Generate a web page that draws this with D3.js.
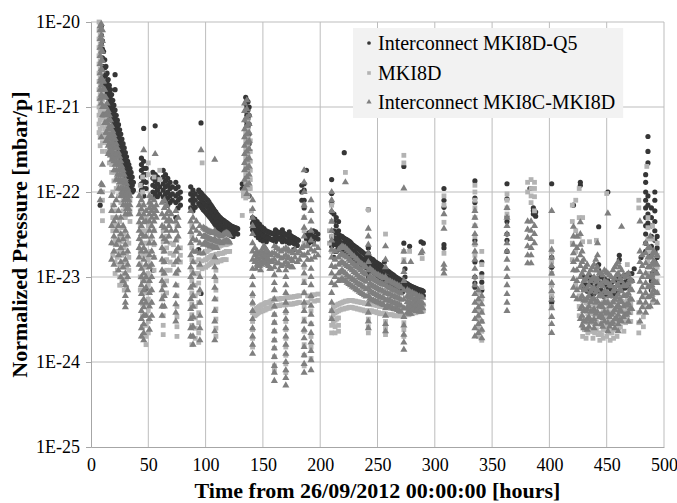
<!DOCTYPE html>
<html>
<head>
<meta charset="utf-8">
<script src="https://cdn.jsdelivr.net/npm/d3@7"></script>
<style>
  body { margin: 0; background: #fff; }
  svg { display: block; font-family: "Liberation Serif", "Times New Roman", serif; }
</style>
</head>
<body>
<svg id="chart" width="677" height="503"></svg>
<script>
const seriesNames = ['Interconnect MKI8D-Q5', 'MKI8D', 'Interconnect MKI8C-MKI8D']
const xTicks = [0, 50, 100, 150, 200, 250, 300, 350, 400, 450, 500]
const yTicks = [1e-25, 1e-24, 1e-23, 1e-22, 1e-21, 1e-20]

// [hour, [normalized pressures read at that hour]]
const q5Points = [
  [8, [7e-23]],
  [9, [9e-21, 7e-21, 5.5e-21, 4.5e-21]], [10, [6e-21, 4.8e-21, 3.8e-21, 3e-21]],
  [11, [4.5e-21, 3.6e-21, 2.9e-21, 2.3e-21]], [12, [3.6e-21, 2.9e-21, 2.3e-21, 1.8e-21]],
  [13, [3e-21, 2.4e-21, 1.9e-21, 1.5e-21]], [14, [2.5e-21, 2e-21, 1.6e-21, 1.3e-21]],
  [15, [2.1e-21, 1.7e-21, 1.35e-21, 1.1e-21]], [16, [1.8e-21, 1.45e-21, 1.15e-21, 9e-22]],
  [17, [1.6e-21, 1.25e-21, 1e-21, 8e-22]], [18, [1.4e-21, 1.1e-21, 8.8e-22, 7e-22]],
  [19, [1.2e-21, 9.6e-22, 7.7e-22, 6.1e-22]], [20, [1.05e-21, 8.4e-22, 6.7e-22, 5.3e-22]],
  [21, [2.4e-21, 1.6e-21, 9.2e-22, 7.3e-22, 5.8e-22, 4.6e-22]], [22, [8e-22, 6.4e-22, 5.1e-22, 4.1e-22]],
  [23, [7e-22, 5.6e-22, 4.5e-22, 3.6e-22]], [24, [6.2e-22, 4.9e-22, 3.9e-22, 3.1e-22]],
  [25, [5.4e-22, 4.3e-22, 3.4e-22, 2.7e-22]], [26, [4.8e-22, 3.8e-22, 3e-22, 2.4e-22]],
  [27, [4.2e-22, 3.3e-22, 2.6e-22, 2.1e-22]], [28, [3.7e-22, 2.9e-22, 2.3e-22, 1.85e-22]],
  [29, [3.3e-22, 2.6e-22, 2.1e-22, 1.65e-22]], [30, [2.9e-22, 2.3e-22, 1.85e-22, 1.5e-22]],
  [31, [2.6e-22, 2.1e-22, 1.65e-22, 1.3e-22]], [32, [2.3e-22, 1.85e-22, 1.5e-22, 1.2e-22]],
  [33, [2.1e-22, 1.65e-22, 1.3e-22, 1.05e-22]], [34, [1.9e-22, 1.5e-22, 1.2e-22]],
  [35, [1.7e-22, 1.35e-22, 1.1e-22]], [36, [1.5e-22, 1.2e-22, 1e-22]], [37, [1.3e-22, 1.05e-22]],
  [44, [2.5e-22, 2.1e-22, 1.8e-22, 1.5e-22, 1.25e-22, 1.05e-22, 9e-23]],
  [46, [5.6e-22, 2.3e-22, 1.9e-22, 1.6e-22, 1.35e-22, 1.1e-22, 9e-23]],
  [48, [1.9e-22, 1.6e-22, 1.3e-22, 1.1e-22, 7e-24]],
  [54, [1.7e-22, 1.45e-22, 1.2e-22, 1e-22, 8.5e-23, 1.2e-23]],
  [56, [6e-22, 1.6e-22, 1.35e-22, 1.15e-22, 9.5e-23]],
  [58, [1.5e-22, 1.25e-22, 1.05e-22, 8.8e-23]], [60, [1.4e-22, 1.15e-22, 9.5e-23]],
  [63, [1.8e-22, 1.5e-22, 1.25e-22, 1.05e-22, 8.8e-23]], [65, [1.6e-22, 1.35e-22, 1.15e-22, 9.5e-23, 8e-23]],
  [67, [1.45e-22, 1.2e-22, 1e-22, 8.5e-23, 7e-23]], [69, [1.3e-22, 1.1e-22, 9e-23, 7.5e-23]],
  [71, [1.15e-22, 9.5e-23, 8e-23]],
  [74, [1.3e-22, 1.1e-22, 9e-23, 7.5e-23, 5e-23]], [76, [1.15e-22, 9.5e-23, 8e-23, 6.5e-23]],
  [78, [1e-22, 8.5e-23, 7e-23]],
  [87, [1.15e-22, 9.5e-23, 8e-23, 6.5e-23]], [89, [1.05e-22, 8.8e-23, 7.3e-23, 6e-23]],
  [91, [9.5e-23, 8e-23, 6.6e-23]], [94, [1.05e-22, 8.8e-23, 7.3e-23, 2.1e-23]],
  [96, [6.5e-22, 9.8e-23, 8.2e-23, 6.8e-23, 6.4e-24]], [98, [9e-23, 7.5e-23, 6.2e-23]],
  [100, [8.5e-23, 7e-23, 5.8e-23]], [102, [8e-23, 6.6e-23, 5.4e-23]],
  [104, [7.2e-23, 6e-23, 5e-23]], [106, [6.6e-23, 5.5e-23, 4.6e-23]],
  [108, [6e-23, 5e-23, 4.2e-23]], [110, [5.5e-23, 4.6e-23, 3.9e-23]],
  [112, [5.1e-23, 4.3e-23, 3.7e-23]], [114, [4.8e-23, 4.1e-23, 3.5e-23]],
  [116, [4.6e-23, 3.9e-23, 3.4e-23]], [118, [4.4e-23, 3.8e-23, 3.3e-23]],
  [120, [4.2e-23, 3.6e-23, 3.2e-23]], [122, [4e-23, 3.5e-23, 3.1e-23]],
  [124, [3.9e-23, 3.4e-23, 3e-23]], [126, [3.8e-23, 3.3e-23]], [128, [3.7e-23, 3.2e-23]],
  [95, [1e-22, 8.5e-23, 7e-23]], [97, [9.4e-23, 7.9e-23, 6.5e-23]], [99, [8.8e-23, 7.3e-23, 6e-23]],
  [101, [8.2e-23, 6.8e-23, 5.6e-23]], [103, [7.6e-23, 6.3e-23, 5.2e-23]], [105, [6.9e-23, 5.8e-23, 4.8e-23]],
  [107, [6.3e-23, 5.2e-23, 4.4e-23]], [109, [5.8e-23, 4.8e-23, 4e-23]], [111, [5.3e-23, 4.45e-23, 3.8e-23]],
  [113, [4.95e-23, 4.2e-23, 3.6e-23]], [115, [4.7e-23, 4e-23, 3.45e-23]], [117, [4.5e-23, 3.85e-23, 3.35e-23]],
  [119, [4.3e-23, 3.7e-23, 3.25e-23]], [121, [4.1e-23, 3.55e-23, 3.15e-23]], [123, [3.95e-23, 3.45e-23]],
  [125, [3.85e-23, 3.35e-23]], [127, [3.75e-23, 3.25e-23]],
  [132, [1.25e-22, 1.1e-22]],
  [135, [1.3e-21, 1.1e-21, 9e-22, 7e-22, 5.5e-22, 4.5e-22, 3.5e-22, 2.8e-22]],
  [136, [1.2e-21, 1e-21, 8e-22, 6.2e-22, 5e-22, 4e-22, 3.1e-22]],
  [137, [1.15e-21, 9.2e-22, 7.3e-22, 5.8e-22, 4.2e-22, 3.3e-22, 2.5e-22, 1.3e-22]],
  [138, [1e-21, 8e-22, 6.3e-22, 4.8e-22, 3.7e-22, 1.1e-22, 9e-23]],
  [141, [5e-23, 4.3e-23, 3.6e-23]], [143, [4.8e-23, 4e-23, 3.4e-23]],
  [145, [4.5e-23, 3.8e-23, 3.2e-23]], [147, [4.2e-23, 3.5e-23, 3e-23]],
  [149, [3.9e-23, 3.3e-23, 2.8e-23]], [151, [3.7e-23, 3.1e-23, 2.7e-23]],
  [153, [3.5e-23, 3e-23, 2.6e-23]], [155, [3.4e-23, 2.9e-23]], [157, [3.3e-23, 2.8e-23]],
  [159, [3.2e-23, 2.7e-23]], [161, [3.6e-23, 3e-23, 2.6e-23]], [163, [3.4e-23, 2.9e-23]],
  [165, [3.3e-23, 2.8e-23]], [167, [3.6e-23, 3e-23, 2.6e-23]], [169, [3.2e-23, 2.7e-23]],
  [171, [3.1e-23, 2.6e-23]], [173, [3.4e-23, 2.9e-23, 2.5e-23]], [175, [3e-23, 2.6e-23]],
  [177, [2.9e-23, 2.5e-23, 2.1e-23]], [179, [2.8e-23, 2.4e-23]], [181, [2.7e-23]],
  [142, [4.6e-23, 3.9e-23, 3.3e-23]], [144, [4.3e-23, 3.6e-23, 3.1e-23]], [146, [4.1e-23, 3.4e-23, 2.9e-23]],
  [148, [3.8e-23, 3.2e-23, 2.75e-23]], [150, [3.6e-23, 3.05e-23, 2.65e-23]], [152, [3.5e-23, 3e-23]],
  [154, [3.4e-23, 2.9e-23]], [156, [3.3e-23, 2.8e-23]], [158, [3.25e-23, 2.75e-23]],
  [160, [3.3e-23, 2.8e-23]], [162, [3.4e-23, 2.9e-23]], [164, [3.3e-23, 2.8e-23]],
  [166, [3.3e-23, 2.8e-23]], [168, [3.3e-23, 2.8e-23]], [170, [3.1e-23, 2.65e-23]],
  [172, [3.2e-23, 2.7e-23]], [174, [3.1e-23, 2.65e-23]], [176, [2.95e-23, 2.55e-23]],
  [178, [2.85e-23, 2.45e-23]], [180, [2.75e-23, 2.35e-23]],
  [184, [1.2e-22, 1e-22, 8e-23]], [186, [1.25e-22, 1.05e-22, 8e-23, 6.5e-23]],
  [188, [1.8e-22, 3.2e-23, 2.8e-23]], [190, [3.3e-23, 2.9e-23, 2.5e-23]],
  [192, [3.4e-23, 3e-23, 2.6e-23]], [194, [3.5e-23, 3e-23, 2.6e-23]],
  [196, [3.4e-23, 2.9e-23]], [198, [3.2e-23, 2.8e-23]],
  [210, [1.4e-22, 9.6e-23, 7.3e-23, 5.8e-23, 3e-23, 2.6e-23, 2.3e-23]],
  [212, [5.5e-23, 4.5e-23, 3.5e-23, 2.9e-23, 2.5e-23, 2e-23, 1.7e-23]],
  [214, [5e-23, 4e-23, 3.3e-23, 2.8e-23, 2.4e-23, 2e-23]],
  [216, [4.5e-23, 3.5e-23, 2.8e-23, 2.3e-23]], [218, [3e-23, 2.5e-23, 2.1e-23]],
  [220, [2.9e-23, 2.5e-23, 2.1e-23]], [221, [2.9e-22]], [222, [2.8e-23, 2.4e-23, 2e-23]],
  [224, [2.7e-23, 2.3e-23, 1.9e-23]], [226, [2.6e-23, 2.2e-23, 1.85e-23]],
  [228, [2.4e-23, 2e-23, 1.75e-23]], [230, [2.3e-23, 1.95e-23, 1.65e-23]],
  [232, [2.2e-23, 1.85e-23, 1.55e-23]], [234, [2.1e-23, 1.75e-23, 1.5e-23]],
  [236, [2e-23, 1.65e-23, 1.4e-23]], [238, [1.9e-23, 1.6e-23, 1.35e-23]],
  [240, [1.8e-23, 1.5e-23, 1.3e-23]],
  [242, [6.2e-23, 2.2e-23, 1.9e-23, 1.7e-23, 1.45e-23, 1.25e-23, 1.1e-23, 1e-23]],
  [244, [1.65e-23, 1.4e-23, 1.2e-23]], [246, [1.6e-23, 1.35e-23, 1.15e-23]],
  [248, [1.5e-23, 1.3e-23, 1.1e-23]], [250, [1.45e-23, 1.25e-23, 1.05e-23]],
  [252, [1.4e-23, 1.2e-23, 1e-23]], [254, [1.3e-23, 1.1e-23, 9.5e-24]],
  [256, [1.5e-23, 1.25e-23, 1.05e-23, 9e-24]], [258, [1.2e-23, 1e-23, 8.7e-24]],
  [260, [1.15e-23, 9.7e-24, 8.3e-24]], [262, [1.1e-23, 9.3e-24, 8e-24]],
  [264, [1.05e-23, 9e-24, 7.7e-24]], [266, [1e-23, 8.6e-24, 7.4e-24]],
  [268, [9.6e-24, 8.3e-24, 7.1e-24]], [270, [9.2e-24, 8e-24, 6.9e-24]],
  [272, [8.9e-24, 7.7e-24, 6.7e-24]], [273, [2e-22, 2.5e-23]],
  [274, [1.25e-23, 1e-23, 8.6e-24, 7.4e-24]], [276, [8.3e-24, 7.1e-24]],
  [278, [2.3e-23, 8e-24, 6.9e-24]], [280, [7.7e-24, 6.7e-24]], [282, [7.5e-24, 6.5e-24]],
  [284, [7.3e-24, 6.4e-24]], [286, [7.1e-24, 6.2e-24]], [288, [2.6e-23, 7e-24, 6.1e-24]],
  [290, [2.5e-23, 6.8e-24, 6e-24]],
  [211, [2.8e-23, 2.4e-23]], [215, [2.9e-23, 2.5e-23, 2.1e-23]], [217, [3.1e-23, 2.6e-23, 2.2e-23]],
  [219, [3e-23, 2.5e-23, 2.1e-23]], [221, [2.85e-23, 2.45e-23, 2.05e-23]], [223, [2.75e-23, 2.35e-23, 1.95e-23]],
  [225, [2.65e-23, 2.25e-23, 1.9e-23]], [227, [2.5e-23, 2.1e-23, 1.8e-23]], [229, [2.35e-23, 2e-23, 1.7e-23]],
  [231, [2.25e-23, 1.9e-23, 1.6e-23]], [233, [2.15e-23, 1.8e-23, 1.52e-23]], [235, [2.05e-23, 1.7e-23, 1.45e-23]],
  [237, [1.95e-23, 1.62e-23, 1.38e-23]], [239, [1.85e-23, 1.55e-23, 1.32e-23]], [241, [1.75e-23, 1.48e-23, 1.27e-23]],
  [243, [1.7e-23, 1.42e-23, 1.22e-23]], [245, [1.62e-23, 1.37e-23, 1.17e-23]], [247, [1.55e-23, 1.32e-23, 1.12e-23]],
  [249, [1.48e-23, 1.27e-23, 1.07e-23]], [251, [1.42e-23, 1.22e-23, 1.02e-23]], [253, [1.35e-23, 1.15e-23, 9.7e-24]],
  [255, [1.28e-23, 1.08e-23, 9.2e-24]], [257, [1.22e-23, 1.03e-23, 8.8e-24]], [259, [1.17e-23, 9.9e-24, 8.5e-24]],
  [261, [1.12e-23, 9.5e-24, 8.1e-24]], [263, [1.07e-23, 9.1e-24, 7.8e-24]], [265, [1.02e-23, 8.8e-24, 7.5e-24]],
  [267, [9.8e-24, 8.4e-24, 7.2e-24]], [269, [9.4e-24, 8.1e-24, 7e-24]], [271, [9e-24, 7.8e-24, 6.8e-24]],
  [275, [8.4e-24, 7.2e-24]], [277, [8.1e-24, 7e-24]], [279, [7.8e-24, 6.8e-24]], [281, [7.6e-24, 6.6e-24]],
  [283, [7.4e-24, 6.4e-24]], [285, [7.2e-24, 6.3e-24]], [287, [7e-24, 6.1e-24]], [289, [6.9e-24, 6e-24]],
  [308, [1.1e-22, 8e-23, 6.6e-23, 2.4e-23, 2.2e-23]],
  [335, [1.35e-22, 8.5e-23, 7.5e-23, 2.7e-23, 1.5e-23, 1e-23, 8.5e-24, 7.6e-24]],
  [341, [1.5e-23, 1.1e-23, 8.7e-24, 7e-24]],
  [363, [1.25e-22, 8.3e-23, 5.1e-23, 4.5e-23, 3.2e-23, 2.7e-23, 2e-23]],
  [383, [1.1e-22]], [386, [6.5e-23, 6e-23, 5.5e-23]], [388, [5.8e-23, 5.2e-23]],
  [402, [1.25e-22, 1.7e-23, 1.3e-23, 5.8e-24, 5e-24]],
  [421, [7e-23]], [427, [1.3e-22, 1.2e-22]],
  [430, [1e-23, 8.5e-24, 7.2e-24]], [433, [9.5e-24, 8e-24, 6.8e-24]],
  [436, [1e-23, 8.5e-24, 7e-24, 6e-24]], [439, [9e-24, 7.6e-24, 6.4e-24]],
  [442, [9.5e-24, 8e-24, 6.8e-24]], [443, [3.9e-23, 1.4e-23, 1.2e-23]],
  [445, [1e-23, 8.5e-24, 7e-24]], [448, [9.5e-24, 8e-24, 6.5e-24, 5.8e-24]],
  [451, [1e-22, 9e-24, 7.6e-24, 6.4e-24]], [454, [8.5e-24, 7.2e-24, 6e-24]],
  [457, [9e-24, 7.5e-24, 6.3e-24]], [460, [9.5e-24, 8e-24, 6.7e-24]],
  [461, [1.8e-23, 1.6e-23]], [463, [1e-23, 8.5e-24, 7e-24]],
  [466, [1.05e-23, 8.8e-24, 7.4e-24]], [469, [1.1e-23, 9.2e-24, 7.7e-24]],
  [472, [1.1e-23, 9e-24]], [474, [1.25e-23]], [480, [1.7e-23]],
  [484, [1.6e-22, 1.3e-22, 1e-22, 8e-23, 6.5e-23, 5e-23, 4e-23, 3.2e-23, 2.5e-23, 2e-23]],
  [486, [4.5e-22, 3e-22, 2.2e-22, 9e-23, 7e-23, 5.5e-23, 4.3e-23]],
  [489, [6.5e-23, 5e-23, 4e-23, 3e-23, 2.3e-23, 1.8e-23, 1.4e-23, 1.1e-23, 9e-24, 7e-24]],
  [492, [1e-22, 8e-23, 6e-23, 4.5e-23, 3.5e-23, 2.7e-23, 2e-23, 1.5e-23, 1.2e-23]],
  [494, [3e-23, 2.2e-23, 1.7e-23]]
]

const mki8dPoints = [
  [7, [1e-20, 8e-21, 6.3e-21, 5e-21, 4e-21, 3.2e-21, 2.5e-21, 2e-21, 1.6e-21, 1.25e-21, 1e-21, 8e-22, 6.3e-22, 5e-22]],
  [8, [9e-21, 7e-21, 5.5e-21, 4.5e-21, 3.5e-21, 2.8e-21, 2.2e-21, 1.8e-21, 1.4e-21, 1.1e-21, 9e-22, 7e-22, 5.5e-22, 4.4e-22, 3.5e-22]],
  [10, [1.5e-21, 1.2e-21, 9.5e-22, 7.5e-22, 6e-22, 4.8e-22, 3.8e-22, 3e-22, 1e-22, 8e-23, 6e-23, 4.6e-23]],
  [12, [9e-22, 7e-22, 5.5e-22, 4.4e-22]], [14, [6e-22, 4.8e-22, 3.8e-22, 3e-22]],
  [16, [4.5e-22, 3.5e-22, 2.8e-22, 2.2e-22]], [18, [3.5e-22, 2.7e-22, 2.1e-22, 1.7e-22]],
  [20, [2.8e-22, 2.2e-22, 1.7e-22, 1.35e-22]], [22, [2.3e-22, 1.8e-22, 1.4e-22, 1.1e-22]],
  [24, [1.9e-22, 1.5e-22, 1.2e-22, 9e-23]], [26, [1.6e-22, 1.25e-22, 1e-22, 7.5e-23]],
  [28, [1.3e-22, 1e-22, 8e-23, 6e-23]], [30, [1.1e-22, 8.5e-23, 6.5e-23, 5e-23]],
  [32, [9e-23, 7e-23, 5.5e-23]], [34, [8e-23, 6e-23, 4.5e-23]],
  [19, [1e-22, 7e-23, 5e-23, 3.5e-23, 2.5e-23, 1.8e-23]],
  [21, [6e-23, 4e-23, 2.8e-23, 2e-23, 1.5e-23, 1.1e-23]],
  [23, [5e-23, 3.5e-23, 2.4e-23, 1.7e-23, 1.2e-23]],
  [25, [4.5e-23, 3e-23, 2e-23, 1.4e-23, 1e-23, 8e-24]],
  [27, [3.8e-23, 2.6e-23, 1.8e-23, 1.3e-23, 9e-24]],
  [29, [3.2e-23, 2.2e-23, 1.5e-23, 1.1e-23, 8.5e-24, 7e-24]],
  [31, [2.8e-23, 1.9e-23, 1.3e-23, 9.5e-24, 7.5e-24]], [33, [2.5e-23, 1.7e-23, 1.2e-23]],
  [43, [1.2e-22, 9e-23, 6e-23, 4e-23, 2.8e-23, 2e-23, 1.4e-23, 1e-23, 7e-24]],
  [45, [1.5e-22, 1e-22, 7e-23, 5e-23, 3.5e-23, 2.5e-23, 1.8e-23, 1.3e-23, 9e-24, 6.5e-24, 4.8e-24, 3.5e-24, 2.6e-24, 2e-24]],
  [48, [5e-23, 3.5e-23, 2.5e-23, 1.8e-23, 1.3e-23, 9e-24, 6.5e-24, 4.8e-24, 3.6e-24, 2.7e-24, 2e-24, 1.6e-24]],
  [50, [2.2e-22, 1.6e-22, 4e-23, 2.5e-23, 1.6e-23, 1.1e-23, 8e-24, 5.5e-24, 4e-24, 3e-24, 2.2e-24]],
  [52, [8e-23, 4e-23, 2.8e-23, 2e-23, 1.4e-23, 1e-23, 7e-24, 5e-24]],
  [55, [1.5e-22, 3.5e-23, 2.4e-23, 1.7e-23, 1.2e-23]], [60, [1.8e-22, 1.4e-22]],
  [63, [3.5e-23, 2.6e-23, 2e-23, 1.5e-23, 1.1e-23, 8e-24, 6e-24, 4.5e-24, 3.5e-24, 2.7e-24, 2.1e-24]],
  [66, [3e-23, 2.2e-23, 1.6e-23, 1.2e-23, 9e-24, 6.5e-24]], [69, [2.5e-23, 1.9e-23, 1.5e-23, 1.2e-23]],
  [72, [2.4e-23, 1.8e-23, 1.4e-23]],
  [75, [4e-23, 2.8e-23, 2e-23, 1.5e-23, 1.1e-23, 8e-24, 6e-24, 4.5e-24, 3.4e-24, 2.6e-24, 2e-24]],
  [78, [2.2e-23, 1.8e-23, 1.5e-23]],
  [88, [4e-23, 3e-23, 2.2e-23, 1.6e-23, 1.2e-23, 9e-24, 6.5e-24, 4.8e-24, 3.6e-24, 2.7e-24, 2e-24, 1.6e-24]],
  [91, [2e-23, 1.5e-23, 1.1e-23, 8e-24, 6e-24, 4.5e-24, 3.3e-24, 2.5e-24, 1.9e-24]],
  [94, [1.6e-23, 1.3e-23, 1.1e-23, 8.5e-24, 6.5e-24, 5e-24, 3.8e-24, 2.9e-24, 2.2e-24, 1.7e-24]],
  [97, [2.2e-22, 1.9e-23, 1.55e-23, 1.25e-23]], [100, [2e-23, 1.6e-23, 1.3e-23]],
  [103, [2.1e-23, 1.7e-23, 1.4e-23]], [106, [2.2e-23, 1.8e-23, 1.5e-23]],
  [109, [2.3e-23, 1.85e-23, 1.5e-23, 1.2e-23, 9e-24, 7e-24, 5.5e-24, 4.2e-24, 3.2e-24, 2.5e-24, 2e-24]],
  [112, [2.3e-23, 1.9e-23, 1.55e-23]], [115, [2.4e-23, 1.9e-23, 1.6e-23]],
  [118, [2.4e-23, 2e-23, 1.6e-23]], [121, [2.5e-23, 2e-23]],
  [101.5, [2e-23, 1.65e-23, 1.35e-23]], [104.5, [2.15e-23, 1.75e-23, 1.45e-23]],
  [107.5, [2.25e-23, 1.8e-23, 1.5e-23]], [110.5, [2.3e-23, 1.85e-23, 1.5e-23]],
  [113.5, [2.35e-23, 1.9e-23, 1.55e-23]], [116.5, [2.4e-23, 1.95e-23, 1.6e-23]], [119.5, [2.45e-23, 2e-23]],
  [132, [5.3e-23]], [133, [1e-22, 9e-23]],
  [135, [5e-22, 4e-22, 3.2e-22, 2.5e-22, 2e-22, 1.6e-22, 1.3e-22, 1e-22, 8.5e-23]],
  [137, [7e-22, 5.5e-22, 4.4e-22, 3.5e-22, 2.8e-22, 2.2e-22, 1.8e-22, 1.4e-22, 1.1e-22, 9e-23]],
  [139, [4e-22, 3e-22, 2.3e-22, 1.8e-22, 1.4e-22, 1.1e-22]], [140, [6e-23]],
  [141, [6e-24, 4.8e-24, 3.8e-24, 3e-24, 2.4e-24, 1.9e-24, 1.5e-24]],
  [143, [4e-24, 3.5e-24]], [145, [4.3e-24, 3.7e-24]], [147, [4.5e-24, 3.9e-24]],
  [149, [4.7e-24, 4e-24]], [151, [4.8e-24, 4.1e-24]], [153, [5e-24, 4.2e-24]],
  [155, [5e-24, 4.3e-24]], [157, [5.2e-24, 4.4e-24]],
  [144, [4.2e-24, 3.6e-24]], [146, [4.4e-24, 3.8e-24]], [148, [4.6e-24, 3.9e-24]], [150, [4.7e-24, 4e-24]],
  [152, [4.9e-24, 4.1e-24]], [154, [5e-24, 4.3e-24]], [156, [5.1e-24, 4.3e-24]], [158, [5.3e-24, 4.5e-24]],
  [160, [5.5e-24, 4.5e-24, 3.6e-24, 2.9e-24, 2.3e-24, 1.8e-24, 1.45e-24, 1.15e-24, 9e-25, 8e-25]],
  [163, [5.5e-24, 4.6e-24]], [166, [5.6e-24, 4.7e-24]],
  [161.5, [5.5e-24, 4.6e-24]], [164.5, [5.5e-24, 4.6e-24]], [168, [5.6e-24, 4.7e-24]],
  [170, [5.7e-24, 4.7e-24, 3.8e-24, 3e-24, 2.4e-24, 1.9e-24, 1.5e-24, 1.2e-24, 9.5e-25, 7.5e-25]],
  [173, [5.8e-24, 4.8e-24]], [176, [5.8e-24, 4.8e-24]], [179, [5.9e-24, 4.9e-24]], [182, [6e-24, 5e-24]],
  [171.5, [5.7e-24, 4.8e-24]], [174.5, [5.8e-24, 4.8e-24]], [177.5, [5.9e-24, 4.9e-24]], [180.5, [6e-24, 5e-24]],
  [186, [7e-23, 5e-23, 3.5e-23, 2.5e-23, 1.8e-23, 1.3e-23, 9e-24, 6.5e-24, 4.5e-24, 3.2e-24, 2.3e-24, 1.6e-24, 1.2e-24, 9e-25]],
  [189, [6e-24, 5e-24]], [192, [5.5e-24, 4e-24, 2.8e-24, 2e-24, 1.5e-24, 1.1e-24]],
  [195, [6.2e-24, 5.2e-24]], [198, [6.3e-24, 5.3e-24]],
  [208, [3.5e-23, 2.5e-23]],
  [210, [7e-23, 4.5e-23, 3e-23, 2e-23, 4e-24, 3.3e-24, 2.7e-24, 2.2e-24]],
  [213, [4.6e-24, 3.8e-24, 3.1e-24, 2.6e-24, 2.2e-24]],
  [216, [4.8e-24, 4e-24, 3.3e-24, 2.7e-24, 2.3e-24]],
  [219, [5e-24, 4.2e-24]], [222, [1.7e-22, 5.2e-24, 4.3e-24]], [225, [5.3e-24, 4.4e-24]],
  [228, [5.3e-24, 4.4e-24]], [231, [5.2e-24, 4.3e-24]], [234, [5.1e-24, 4.2e-24]],
  [237, [5e-24, 4.1e-24]], [240, [4.9e-24, 4e-24]],
  [242, [6.2e-23, 5e-24, 4e-24, 3.2e-24, 2.6e-24, 2.2e-24]],
  [245, [4.8e-24, 4e-24]], [248, [4.7e-24, 3.9e-24]], [251, [4.6e-24, 3.8e-24]], [254, [4.5e-24, 3.7e-24]],
  [257, [3.2e-23, 4.5e-24, 3.7e-24, 3e-24, 2.5e-24, 2.1e-24]],
  [260, [4.4e-24, 3.6e-24]], [263, [4.3e-24, 3.6e-24]], [266, [4.2e-24, 3.5e-24]], [269, [4.2e-24, 3.5e-24]],
  [273, [2.7e-22, 2.2e-22, 2e-23, 1.6e-23, 4.3e-24, 3.5e-24, 2.9e-24, 2.4e-24, 2e-24]],
  [276, [4.3e-24, 3.6e-24]], [278, [2e-23]], [279, [4.4e-24, 3.7e-24]], [282, [4.5e-24, 3.8e-24]],
  [285, [4.6e-24, 3.9e-24]], [288, [4.7e-24, 4e-24]], [289, [1.65e-23]],
  [211.5, [4.4e-24, 3.6e-24, 2.9e-24]], [214.5, [4.7e-24, 3.9e-24, 3.2e-24]], [217.5, [4.9e-24, 4.1e-24]],
  [220.5, [5.1e-24, 4.2e-24]], [223.5, [5.2e-24, 4.3e-24]], [226.5, [5.3e-24, 4.4e-24]],
  [229.5, [5.2e-24, 4.3e-24]], [232.5, [5.1e-24, 4.2e-24]], [235.5, [5e-24, 4.1e-24]],
  [238.5, [4.9e-24, 4e-24]], [243.5, [4.8e-24, 4e-24]], [246.5, [4.7e-24, 3.9e-24]],
  [249.5, [4.6e-24, 3.8e-24]], [252.5, [4.5e-24, 3.7e-24]], [255.5, [4.5e-24, 3.7e-24]],
  [258.5, [4.4e-24, 3.6e-24]], [261.5, [4.3e-24, 3.6e-24]], [264.5, [4.2e-24, 3.5e-24]],
  [267.5, [4.2e-24, 3.5e-24]], [270.5, [4.2e-24, 3.5e-24]], [274.5, [4.3e-24, 3.6e-24]],
  [277.5, [4.3e-24, 3.6e-24]], [280.5, [4.4e-24, 3.7e-24]], [283.5, [4.5e-24, 3.8e-24]],
  [286.5, [4.6e-24, 3.9e-24]], [290, [4.7e-24, 4e-24]],
  [308, [9e-23, 7e-23, 4.4e-23, 1.9e-23]],
  [335, [1.2e-22, 1e-22, 8e-23, 6.5e-23, 5e-23, 4e-23, 3e-23, 2.4e-23, 1.8e-23]],
  [338, [6.5e-24, 5e-24, 4e-24, 3.2e-24, 2.5e-24, 2e-24]],
  [341, [2e-23, 1.4e-23, 1e-23, 7.5e-24, 5.5e-24, 4e-24, 3e-24, 2.3e-24, 1.8e-24]],
  [363, [9.5e-23, 8e-23, 6.5e-23, 5.5e-23]],
  [381, [1.3e-22, 1e-22]], [384, [1.4e-22, 1.1e-22, 9e-23, 7.5e-23]],
  [387, [1.3e-22, 1.1e-22, 8.8e-23, 6e-23]],
  [402, [2.6e-23, 2e-23, 1.5e-23, 1.1e-23, 8e-24, 6e-24, 4.5e-24]],
  [420, [7e-23, 4.5e-23, 2.5e-23, 1.6e-23]], [423, [8e-23, 3.5e-23, 2e-23, 1.2e-23, 8e-24]],
  [426, [1.1e-22, 5e-23, 3e-23, 6e-24, 4.5e-24, 3.5e-24]],
  [429, [5e-23, 2.6e-23, 5.5e-24, 4.2e-24, 3.3e-24, 2.6e-24, 2e-24]],
  [432, [5e-24, 3.9e-24, 3e-24, 2.4e-24, 1.9e-24]], [435, [2.6e-23, 5.2e-24, 4e-24, 3.1e-24, 2.4e-24]],
  [438, [4.8e-24, 3.7e-24, 2.9e-24, 2.3e-24, 1.9e-24]],
  [441, [2.7e-23, 1.2e-23, 5e-24, 3.8e-24, 3e-24, 2.4e-24]],
  [444, [4.5e-24, 3.5e-24, 2.8e-24, 2.2e-24, 1.8e-24]], [447, [5e-24, 3.9e-24, 3e-24, 2.4e-24, 1.9e-24]],
  [450, [9.6e-23, 5.5e-24, 4.2e-24, 3.3e-24, 2.6e-24, 2e-24]],
  [453, [4.6e-24, 3.6e-24, 2.8e-24, 2.2e-24, 1.8e-24]], [456, [5e-24, 3.9e-24, 3e-24, 2.4e-24, 1.9e-24]],
  [459, [5.3e-24, 4.1e-24, 3.2e-24, 2.5e-24, 2e-24]], [462, [5.5e-24, 4.3e-24, 3.3e-24, 2.6e-24]],
  [465, [5e-24, 3.9e-24, 3e-24, 2.3e-24]], [468, [1.4e-23, 5.3e-24, 4.1e-24, 3.2e-24]],
  [471, [4.8e-24, 3.8e-24, 3e-24]],
  [430.5, [5.2e-24, 4e-24, 3.1e-24, 2.4e-24]], [433.5, [4.8e-24, 3.7e-24, 2.9e-24, 2.2e-24]],
  [436.5, [5e-24, 3.8e-24, 3e-24, 2.3e-24]], [439.5, [4.6e-24, 3.6e-24, 2.8e-24, 2.2e-24]],
  [442.5, [4.7e-24, 3.6e-24, 2.8e-24, 2.1e-24]], [445.5, [4.6e-24, 3.6e-24, 2.8e-24, 2.1e-24]],
  [448.5, [5.2e-24, 4e-24, 3.1e-24, 2.4e-24]], [451.5, [5e-24, 3.9e-24, 3e-24, 2.3e-24]],
  [454.5, [4.8e-24, 3.7e-24, 2.9e-24, 2.2e-24]], [457.5, [5.1e-24, 4e-24, 3.1e-24, 2.4e-24]],
  [460.5, [5.4e-24, 4.2e-24, 3.2e-24, 2.5e-24]], [463.5, [5.2e-24, 4e-24, 3.1e-24]],
  [466.5, [5e-24, 3.8e-24, 2.9e-24]], [469.5, [5e-24, 3.9e-24, 3e-24]],
  [478, [8e-23, 6.5e-23, 5e-24, 3.8e-24, 2.9e-24, 2.2e-24]], [482, [6e-24, 4.5e-24, 3.4e-24, 2.6e-24]],
  [485, [2e-22]], [486, [5e-23, 3.8e-23, 2.8e-23, 2e-23, 1.5e-23, 1.1e-23, 8e-24]],
  [490, [4e-23, 2.8e-23, 2e-23, 1.4e-23, 1e-23, 7e-24, 5e-24]],
  [494, [2.5e-23, 1.8e-23, 1.3e-23, 9e-24, 6.5e-24]]
]

const mki8cPoints = [
  [8, [9e-21, 8e-21, 6.3e-21, 5e-21, 4e-21, 3.2e-21, 2.5e-21, 2e-21, 1.6e-21, 1.25e-21, 1e-22, 8e-23]],
  [9, [9.5e-21, 7e-21, 5.5e-21, 4.5e-21, 3.5e-21, 2.8e-21, 2.2e-21, 1.8e-21, 1.4e-21, 1.1e-21, 4.4e-22, 1.25e-22, 1e-22]],
  [10, [8e-21, 6e-21, 4.5e-21, 3.5e-21, 2.7e-21, 2e-21, 1.6e-21, 1.3e-21, 1e-21, 8e-22, 2.1e-22, 1.2e-22]],
  [11, [2e-21, 1.6e-21, 1.3e-21, 1e-21, 8e-22]], [12, [1.6e-21, 1.3e-21, 1e-21, 8e-22, 6.5e-22]],
  [13, [1.3e-21, 1e-21, 8e-22, 6.5e-22, 5e-22, 4e-22]], [14, [1.1e-21, 8.5e-22, 6.5e-22, 5e-22, 4e-22]],
  [15, [9e-22, 7e-22, 5.5e-22, 4.4e-22, 3.5e-22, 2.8e-22]], [16, [8e-22, 6e-22, 4.7e-22, 3.7e-22, 3e-22]],
  [17, [7e-22, 5.5e-22, 4.3e-22, 3.4e-22, 2.7e-22]], [18, [6e-22, 4.8e-22, 3.8e-22, 3e-22, 2.4e-22]],
  [19, [5.2e-22, 4.2e-22, 3.3e-22, 2.6e-22]], [20, [4.7e-22, 3.7e-22, 2.9e-22, 2.3e-22, 1.8e-22]],
  [21, [4.2e-22, 3.3e-22, 2.6e-22, 2.1e-22]], [22, [3.7e-22, 2.9e-22, 2.3e-22, 1.8e-22, 1.4e-22]],
  [23, [3.3e-22, 2.6e-22, 2.1e-22, 1.6e-22]], [24, [2.9e-22, 2.3e-22, 1.8e-22, 1.4e-22, 1.1e-22]],
  [25, [2.6e-22, 2.1e-22, 1.6e-22, 1.3e-22]], [26, [2.3e-22, 1.8e-22, 1.4e-22, 1.1e-22, 9e-23]],
  [27, [2e-22, 1.6e-22, 1.3e-22, 1e-22]], [28, [1.8e-22, 1.4e-22, 1.1e-22, 9e-23, 7e-23]],
  [29, [1.6e-22, 1.25e-22, 1e-22, 8e-23]], [30, [1.4e-22, 1.1e-22, 9e-23, 7e-23, 5.5e-23]],
  [31, [1.25e-22, 1e-22, 8e-23, 6.3e-23]], [32, [1.1e-22, 9e-23, 7e-23, 5.5e-23]],
  [33, [1e-22, 8e-23, 6.3e-23]], [34, [9e-23, 7e-23, 5.5e-23]],
  [18, [9e-23, 6e-23, 4e-23, 2.5e-23, 1.6e-23]], [20, [7e-23, 4.5e-23, 3e-23, 2e-23, 1.4e-23]],
  [22, [8e-23, 5e-23, 3.5e-23, 2.4e-23]], [24, [6e-23, 4e-23, 2.7e-23, 1.8e-23, 1.2e-23]],
  [26, [5e-23, 3.2e-23, 2.2e-23, 1.5e-23, 1e-23]], [28, [4e-23, 2.8e-23, 1.9e-23, 1.3e-23, 9e-24]],
  [30, [3.5e-23, 2.4e-23, 1.6e-23, 1.1e-23, 8e-24, 6e-24, 5e-24, 4.4e-24]],
  [32, [3e-23, 2e-23, 1.4e-23, 1e-23, 7e-24]],
  [42, [9e-23, 7e-23, 5.5e-23, 4.4e-23, 3.5e-23, 2.8e-23, 2.2e-23, 1.7e-23, 1.4e-23]],
  [44, [8e-23, 6.3e-23, 5e-23, 4e-23, 3.2e-23, 2.5e-23, 2e-23, 1.25e-23, 1e-23, 8e-24, 6.3e-24, 5e-24, 4e-24, 3.2e-24, 2.5e-24, 2e-24]],
  [46, [3.1e-22, 7e-23, 5.5e-23, 4.4e-23, 3e-23, 2.2e-23, 1.6e-23, 1.1e-23, 9e-24, 7e-24, 5.5e-24, 4.4e-24, 3.5e-24, 2.8e-24, 2.2e-24, 1.8e-24]],
  [48, [6e-23, 4.5e-23, 3e-23, 2e-23, 1.4e-23, 1e-23, 7.5e-24, 5e-24, 3.5e-24]],
  [51, [9e-23, 7.5e-23, 6.5e-23, 5.5e-23, 4.5e-23, 3.5e-23, 2.5e-23, 1.8e-23, 1.3e-23, 9e-24, 6.5e-24, 4.5e-24, 3.2e-24, 2.4e-24]],
  [53, [8.5e-23, 7e-23, 6e-23, 5e-23, 4e-23, 3e-23, 2e-23, 1.4e-23, 1e-23, 7e-24, 5e-24, 3.5e-24]],
  [55, [8e-23, 6.5e-23, 5.5e-23, 4.5e-23, 3.5e-23, 2.5e-23, 1.7e-23]],
  [56, [2.8e-22]], [57, [7e-23, 6e-23, 5e-23]],
  [62, [7.5e-23, 5.5e-23, 4e-23, 3e-23, 2.2e-23, 1.6e-23, 1.2e-23, 9e-24, 7e-24, 5.5e-24, 4.5e-24, 3.5e-24]],
  [64, [8e-23, 6.5e-23, 5e-23, 3.8e-23, 2.8e-23, 2e-23, 1.5e-23, 1.1e-23, 8e-24, 6e-24, 4.5e-24]],
  [66, [7e-23, 5.5e-23, 4.5e-23, 3.5e-23, 2.6e-23]], [68, [6e-23, 4.8e-23, 4e-23, 3e-23]],
  [70, [5.5e-23, 4.5e-23, 3.5e-23]],
  [74, [6e-23, 4.5e-23, 3.5e-23, 2.7e-23, 2e-23, 1.5e-23, 1.1e-23, 8e-24, 6e-24, 4.8e-24, 3.8e-24, 3e-24]],
  [76, [5e-23, 4e-23, 3e-23, 2.2e-23, 1.6e-23, 1.2e-23]],
  [87, [6e-23, 4.5e-23, 3.4e-23, 2.5e-23, 1.8e-23, 1.3e-23, 1e-23, 7.5e-24, 5.5e-24, 4.2e-24, 3.2e-24, 2.5e-24, 2e-24]],
  [89, [5e-23, 3.8e-23, 2.8e-23, 2e-23, 1.5e-23, 1.1e-23, 8e-24, 6e-24, 4.5e-24, 3.4e-24, 2.6e-24, 2e-24, 1.6e-24]],
  [92, [4.5e-23, 3.5e-23, 2.7e-23, 2e-23]],
  [95, [4e-23, 3.2e-23, 2.5e-23, 1.9e-23, 1.4e-23, 1e-23, 7e-24, 5e-24, 3.5e-24, 2.5e-24, 1.8e-24]],
  [96, [3.1e-22]], [98, [3.8e-23, 3e-23, 2.4e-23, 1.9e-23]],
  [100, [3.6e-23, 3e-23, 2.5e-23]], [102, [3.5e-23, 2.9e-23, 2.4e-23]],
  [104, [3.4e-23, 2.8e-23, 2.3e-23]], [106, [3.3e-23, 2.7e-23, 2.3e-23]],
  [108, [2.4e-22, 3.5e-23, 2.8e-23, 2.2e-23, 1.7e-23, 1.3e-23, 1e-23, 7.5e-24, 5.5e-24, 4e-24, 3e-24, 2.3e-24, 1.8e-24]],
  [110, [3.2e-23, 2.6e-23, 2.2e-23]], [112, [3.1e-23, 2.6e-23]], [114, [3e-23, 2.5e-23]],
  [116, [3.2e-23, 2.6e-23]], [118, [3.3e-23, 2.7e-23]], [120, [3.2e-23, 2.6e-23]],
  [99, [3.7e-23, 3e-23, 2.5e-23]], [101, [3.6e-23, 2.95e-23, 2.45e-23]], [103, [3.45e-23, 2.85e-23, 2.35e-23]],
  [105, [3.35e-23, 2.75e-23, 2.3e-23]], [107, [3.3e-23, 2.7e-23, 2.25e-23]], [109, [3.25e-23, 2.65e-23, 2.2e-23]],
  [111, [3.15e-23, 2.6e-23]], [113, [3.05e-23, 2.55e-23]], [115, [3.1e-23, 2.55e-23]],
  [117, [3.25e-23, 2.65e-23]], [119, [3.25e-23, 2.65e-23]], [121, [3.1e-23, 2.55e-23]],
  [134, [1.1e-21, 9e-22, 7e-22, 5.5e-22, 4.4e-22, 3.5e-22, 2.8e-22, 2.2e-22, 1.8e-22, 1.4e-22, 1.1e-22]],
  [136, [1.2e-21, 9.5e-22, 7.5e-22, 6e-22, 4.8e-22, 3.8e-22, 3e-22, 2.4e-22, 1.9e-22, 1.5e-22, 1.2e-22, 9.5e-23]],
  [138, [8e-22, 6.3e-22, 5e-22, 4e-22, 3.2e-22, 2.5e-22, 2e-22, 1.6e-22, 1.25e-22]],
  [141, [8e-23, 6.3e-23, 5e-23, 4e-23, 3.2e-23, 2.5e-23, 2e-23, 1.6e-23, 1.25e-23, 1e-23, 8e-24, 6.3e-24, 5e-24, 4e-24, 3.2e-24, 2.5e-24, 2e-24, 1.6e-24, 1.25e-24]],
  [143, [2.2e-23, 1.8e-23, 1.5e-23]], [145, [2e-23, 1.7e-23, 1.4e-23]], [147, [1.9e-23, 1.6e-23, 1.35e-23]],
  [149, [2e-23, 1.7e-23, 1.4e-23]], [151, [2.3e-23, 1.9e-23, 1.6e-23]], [153, [2.1e-23, 1.75e-23, 1.45e-23]],
  [155, [1.9e-23, 1.6e-23, 1.35e-23]], [157, [1.8e-23, 1.5e-23, 1.25e-23]],
  [144, [1.9e-23, 1.55e-23, 1.25e-23]], [148, [1.85e-23, 1.5e-23, 1.2e-23]], [150, [2.2e-23, 1.8e-23, 1.5e-23]],
  [152, [2.2e-23, 1.8e-23, 1.5e-23]], [154, [2e-23, 1.65e-23, 1.4e-23]], [156, [1.85e-23, 1.5e-23, 1.25e-23]],
  [158, [1.9e-23, 1.55e-23]], [162, [2.2e-23, 1.8e-23, 1.45e-23]], [168, [2.1e-23, 1.7e-23, 1.4e-23]],
  [172, [2.1e-23, 1.7e-23, 1.4e-23]], [175, [2e-23, 1.6e-23, 1.3e-23]], [182, [2e-23, 1.6e-23]],
  [160, [2.3e-23, 1.9e-23, 1.6e-23, 1.3e-23, 1.05e-23, 8.5e-24, 7e-24, 5.5e-24, 4.5e-24, 3.6e-24, 2.9e-24, 2.3e-24, 1.8e-24, 1.45e-24, 1.15e-24, 9e-25, 7.5e-25, 6e-25]],
  [164, [2.1e-23, 1.75e-23, 1.45e-23, 1.2e-23]], [166, [2e-23, 1.65e-23, 1.35e-23]],
  [170, [2.2e-23, 1.8e-23, 1.5e-23, 1.2e-23, 1e-23, 8e-24, 6.5e-24, 5e-24, 4e-24, 3.2e-24, 2.5e-24, 2e-24, 1.6e-24, 1.25e-24, 1e-24, 8e-25, 6.5e-25, 5.3e-25]],
  [173, [2e-23, 1.65e-23, 1.35e-23]], [176, [1.9e-23, 1.55e-23, 1.3e-23]],
  [178, [2.1e-23, 1.7e-23]], [180, [1.9e-23, 1.5e-23]], [184, [2.2e-23, 1.8e-23]],
  [186, [1.8e-22, 1.3e-22, 1e-22, 7e-23, 5e-23, 3.8e-23, 3e-23, 2.3e-23, 1.8e-23, 1.4e-23, 1.1e-23, 8.5e-24, 6.5e-24, 5e-24, 4e-24, 3e-24, 2.4e-24, 1.9e-24, 1.5e-24, 1.2e-24, 9.5e-25, 7.5e-25]],
  [189, [2.3e-23, 1.9e-23, 1.6e-23]],
  [192, [8e-23, 6e-23, 4.5e-23, 3.5e-23, 2.7e-23, 2.1e-23, 1.6e-23, 1.25e-23, 1e-23, 8e-24, 6e-24, 4.6e-24, 3.6e-24, 2.8e-24, 2.2e-24, 1.7e-24, 1.35e-24, 1.05e-24, 8e-25]],
  [195, [2.4e-23, 2e-23, 1.7e-23]], [198, [2.2e-23, 1.8e-23]],
  [210, [1e-22, 8e-23, 6e-23, 4.5e-23, 3.5e-23, 2.7e-23, 2.1e-23, 1.7e-23, 1.35e-23, 1.1e-23, 8.5e-24, 6.5e-24, 5e-24, 4e-24, 3.2e-24]],
  [213, [2e-23, 1.6e-23, 1.3e-23, 1e-23, 8e-24]], [216, [2.1e-23, 1.7e-23, 1.4e-23, 1.1e-23, 9e-24]],
  [219, [2.3e-23, 1.85e-23, 1.5e-23, 1.2e-23, 9.5e-24]], [222, [1.3e-22, 2.2e-23, 1.75e-23, 1.4e-23, 1.1e-23, 9e-24]],
  [225, [2e-23, 1.6e-23, 1.3e-23, 1e-23, 8.3e-24]], [228, [1.8e-23, 1.45e-23, 1.2e-23, 9.5e-24, 7.7e-24]],
  [231, [1.65e-23, 1.35e-23, 1.1e-23, 8.8e-24, 7.2e-24]], [234, [1.5e-23, 1.25e-23, 1e-23, 8.2e-24, 6.7e-24]],
  [237, [1.4e-23, 1.15e-23, 9.4e-24, 7.7e-24, 6.3e-24]], [240, [1.3e-23, 1.07e-23, 8.8e-24, 7.2e-24, 5.9e-24]],
  [242, [3.7e-23, 3e-23, 2.4e-23, 1.9e-23, 1.5e-23, 1.2e-23, 9.5e-24, 7.5e-24, 6e-24, 4.8e-24, 3.8e-24, 3e-24, 2.5e-24]],
  [245, [1.2e-23, 9.8e-24, 8e-24, 6.6e-24, 5.4e-24]], [248, [1.1e-23, 9.2e-24, 7.6e-24, 6.3e-24, 5.2e-24]],
  [251, [1.05e-23, 8.7e-24, 7.2e-24, 6e-24, 5e-24]], [254, [1e-23, 8.3e-24, 6.9e-24, 5.7e-24, 4.8e-24]],
  [257, [2.3e-23, 1.6e-23, 1.3e-23, 1e-23, 8e-24, 6.5e-24, 5.3e-24, 4.3e-24, 3.5e-24, 2.8e-24, 2.3e-24]],
  [260, [9e-24, 7.5e-24, 6.3e-24, 5.3e-24, 4.5e-24]], [263, [8.6e-24, 7.2e-24, 6e-24, 5e-24, 4.3e-24]],
  [266, [8.2e-24, 6.9e-24, 5.8e-24, 4.9e-24, 4.2e-24]], [269, [7.8e-24, 6.6e-24, 5.6e-24, 4.7e-24, 4e-24]],
  [273, [1.1e-22, 2e-23, 1.5e-23, 1.15e-23, 9e-24, 7e-24, 5.5e-24, 4.3e-24, 3.4e-24, 2.7e-24, 2.1e-24, 1.7e-24, 1.4e-24]],
  [276, [7e-24, 6e-24, 5.1e-24, 4.4e-24, 3.8e-24]], [279, [1.5e-23, 6.6e-24, 5.7e-24, 4.9e-24, 4.2e-24, 3.7e-24]],
  [282, [6.3e-24, 5.4e-24, 4.7e-24, 4.1e-24]], [285, [6e-24, 5.2e-24, 4.5e-24, 4e-24]],
  [288, [1.9e-23, 5.8e-24, 5e-24, 4.4e-24, 3.9e-24]], [289, [2e-23]],
  [217.5, [2.2e-23, 1.8e-23, 1.45e-23, 1.15e-23, 9.2e-24]], [220.5, [2.25e-23, 1.8e-23, 1.45e-23, 1.15e-23, 9.2e-24]],
  [223.5, [2.1e-23, 1.7e-23, 1.35e-23, 1.05e-23, 8.6e-24]], [226.5, [1.9e-23, 1.55e-23, 1.25e-23, 9.8e-24, 8e-24]],
  [229.5, [1.75e-23, 1.4e-23, 1.15e-23, 9.2e-24, 7.5e-24]], [232.5, [1.6e-23, 1.3e-23, 1.05e-23, 8.5e-24, 7e-24]],
  [235.5, [1.45e-23, 1.2e-23, 9.7e-24, 8e-24, 6.5e-24]], [238.5, [1.35e-23, 1.1e-23, 9.1e-24, 7.5e-24, 6.1e-24]],
  [243.5, [1.25e-23, 1.02e-23, 8.4e-24, 6.9e-24, 5.6e-24]], [246.5, [1.15e-23, 9.5e-24, 7.8e-24, 6.4e-24, 5.3e-24]],
  [249.5, [1.07e-23, 8.9e-24, 7.4e-24, 6.1e-24, 5.1e-24]], [252.5, [1.02e-23, 8.5e-24, 7e-24, 5.8e-24, 4.9e-24]],
  [255.5, [9.7e-24, 8.1e-24, 6.7e-24, 5.6e-24, 4.7e-24]], [258.5, [9.2e-24, 7.7e-24, 6.4e-24, 5.4e-24, 4.6e-24]],
  [261.5, [8.8e-24, 7.4e-24, 6.2e-24, 5.2e-24, 4.4e-24]], [264.5, [8.4e-24, 7e-24, 5.9e-24, 5e-24, 4.2e-24]],
  [267.5, [8e-24, 6.7e-24, 5.7e-24, 4.8e-24, 4.1e-24]], [270.5, [7.6e-24, 6.4e-24, 5.4e-24, 4.6e-24, 3.9e-24]],
  [277.5, [6.8e-24, 5.8e-24, 5e-24, 4.3e-24, 3.7e-24]], [280.5, [6.5e-24, 5.6e-24, 4.8e-24, 4.2e-24]],
  [283.5, [6.2e-24, 5.3e-24, 4.6e-24, 4e-24]], [286.5, [5.9e-24, 5.1e-24, 4.4e-24, 3.9e-24]],
  [289.5, [5.7e-24, 4.9e-24, 4.3e-24]],
  [308, [5.5e-23, 3.7e-23, 1.4e-23, 1.25e-23, 1.1e-23]],
  [335, [6e-23, 5e-23, 4e-23, 3.2e-23, 2.5e-23, 2e-23, 1.6e-23, 1.25e-23, 1e-23, 8e-24, 6.3e-24, 5e-24, 4e-24, 3.2e-24, 2.5e-24, 2e-24]],
  [338, [7e-24, 5.5e-24, 4.4e-24, 3.5e-24, 2.8e-24, 2.2e-24]],
  [341, [6e-24, 4.8e-24, 3.8e-24, 3e-24, 2.4e-24, 1.9e-24]],
  [363, [6.5e-23, 5e-23, 4e-23, 3.2e-23, 2.5e-23, 2e-23, 1.6e-23, 1.25e-23, 1e-23, 8e-24, 6.3e-24, 5e-24, 4e-24]],
  [381, [4.5e-23, 3.6e-23, 2.9e-23, 2.3e-23, 1.8e-23, 1.45e-23]],
  [384, [4.5e-23, 3.5e-23, 2.8e-23, 2.2e-23, 1.8e-23, 1.45e-23]], [387, [4e-23, 3.2e-23, 2.5e-23]],
  [402, [6e-23, 2.1e-23, 1.7e-23, 1.35e-23, 1.1e-23, 8.5e-24, 6.8e-24, 5.4e-24, 4.3e-24, 3.4e-24, 2.8e-24, 2.2e-24]],
  [421, [3.9e-23, 3e-23, 2.4e-23, 1.9e-23, 1.5e-23, 1.2e-23, 9.5e-24, 7.5e-24, 6e-24]],
  [424, [3e-23, 2.2e-23, 1.6e-23, 1.2e-23, 9e-24, 7e-24, 5.5e-24]],
  [427, [4.4e-23, 3.2e-23, 2.4e-23, 1.8e-23, 1.35e-23, 1e-23, 7.5e-24, 5.5e-24, 4.2e-24, 3.2e-24]],
  [430, [1.6e-23, 1.2e-23, 9e-24, 7e-24, 5.3e-24, 4e-24, 3e-24, 2.5e-24]],
  [433, [1.4e-23, 1e-23, 7.5e-24, 5.6e-24, 4.2e-24, 3.2e-24, 2.4e-24]],
  [436, [1.2e-23, 9e-24, 6.8e-24, 5.1e-24, 3.9e-24, 3e-24]],
  [439, [1.4e-23, 1e-23, 7.5e-24, 5.6e-24, 4.2e-24, 3.2e-24, 2.5e-24]],
  [442, [2.5e-23, 1.8e-23, 1.3e-23, 9.5e-24, 7e-24, 5.2e-24, 3.9e-24]],
  [445, [1.1e-23, 8.3e-24, 6.2e-24, 4.7e-24, 3.6e-24, 2.8e-24]],
  [448, [1.2e-23, 9e-24, 6.8e-24, 5.1e-24, 3.9e-24, 3e-24]],
  [451, [5.6e-23, 1.1e-23, 8.5e-24, 6.5e-24, 5e-24, 3.8e-24, 2.9e-24, 2.3e-24]],
  [454, [1e-23, 7.8e-24, 6e-24, 4.6e-24, 3.6e-24, 2.8e-24]],
  [457, [1.3e-23, 9.6e-24, 7.2e-24, 5.4e-24, 4.1e-24, 3.2e-24, 2.5e-24]],
  [460, [1.5e-23, 1.1e-23, 8.2e-24, 6.2e-24, 4.7e-24, 3.6e-24, 2.8e-24, 2.3e-24]],
  [463, [3.9e-23, 1.2e-23, 9e-24, 6.8e-24, 5.1e-24, 3.9e-24, 3e-24]],
  [466, [1e-23, 7.8e-24, 6e-24, 4.6e-24, 3.6e-24]], [469, [1.1e-23, 8.4e-24, 6.4e-24, 4.9e-24, 3.8e-24, 3e-24]],
  [472, [9e-24, 7e-24, 5.4e-24, 4.2e-24]],
  [428.5, [2e-23, 1.5e-23, 1.1e-23, 8e-24, 6e-24, 4.5e-24, 3.5e-24, 2.7e-24]],
  [431.5, [1.3e-23, 9.5e-24, 7e-24, 5.3e-24, 4e-24, 3e-24]],
  [434.5, [1.1e-23, 8e-24, 6e-24, 4.5e-24, 3.4e-24, 2.6e-24]],
  [437.5, [1.3e-23, 9.5e-24, 7.2e-24, 5.4e-24, 4e-24, 3e-24]],
  [440.5, [1.6e-23, 1.2e-23, 8.8e-24, 6.6e-24, 5e-24, 3.7e-24, 2.8e-24]],
  [443.5, [1.1e-23, 8e-24, 6e-24, 4.5e-24, 3.4e-24]],
  [446.5, [1.05e-23, 7.8e-24, 5.9e-24, 4.4e-24, 3.3e-24, 2.6e-24]],
  [449.5, [1.15e-23, 8.6e-24, 6.5e-24, 4.9e-24, 3.7e-24]],
  [452.5, [1.05e-23, 8e-24, 6e-24, 4.5e-24, 3.4e-24, 2.6e-24]],
  [455.5, [1.2e-23, 9e-24, 6.8e-24, 5.1e-24, 3.8e-24, 2.9e-24]],
  [458.5, [1.4e-23, 1.05e-23, 7.8e-24, 5.8e-24, 4.4e-24, 3.3e-24]],
  [461.5, [1.3e-23, 9.6e-24, 7.2e-24, 5.4e-24, 4.1e-24, 3.1e-24]],
  [464.5, [1.05e-23, 8e-24, 6e-24, 4.5e-24, 3.4e-24]],
  [467.5, [1.05e-23, 8e-24, 6.1e-24, 4.7e-24, 3.6e-24]],
  [470.5, [9.5e-24, 7.3e-24, 5.6e-24, 4.3e-24]],
  [479, [4.5e-23, 2e-23, 1.5e-23, 1.15e-23, 8.8e-24, 6.7e-24, 5.1e-24, 3.9e-24, 3e-24]],
  [481, [1.8e-23, 1.35e-23, 1e-23, 7.6e-24, 5.8e-24, 4.4e-24]],
  [484, [2.5e-23, 1.9e-23, 1.45e-23, 1.1e-23, 8.5e-24, 6.5e-24, 5e-24, 3.8e-24]],
  [486, [2.2e-23, 1.7e-23, 1.3e-23, 1e-23, 7.6e-24, 5.8e-24, 4.4e-24]],
  [488, [3e-23, 2.2e-23, 1.7e-23, 1.3e-23, 1e-23, 7.7e-24, 5.9e-24, 4.5e-24]],
  [489.5, [1.8e-23, 1.4e-23, 1.05e-23, 8e-24, 6.2e-24]],
  [491, [2e-23, 1.55e-23, 1.2e-23, 9.2e-24, 7e-24, 5.4e-24]],
  [492.5, [1.9e-23, 1.45e-23, 1.1e-23, 8.5e-24, 6.5e-24]],
  [494, [1.8e-23, 1.4e-23, 1.1e-23, 8.5e-24, 6.5e-24, 5e-24]]
]

const plot = { left: 91, right: 664, top: 22, bottom: 447 }

const x = d3.scaleLinear().domain([0, 500]).range([plot.left, plot.right])
const y = d3.scaleLog().domain([1e-25, 1e-20]).range([plot.bottom, plot.top])

const svg = d3.select('#chart')
const gridColor = '#bdbdbd'
const fmt = d => '1E' + Math.round(Math.log10(d))

// flatten [hour, [values]] into points
function flatten (groups) {
  return groups.flatMap(([h, vals]) => vals.map(v => ({ h: h, v: v })))
}

const series = [
  { name: seriesNames[0], data: flatten(q5Points), type: d3.symbolCircle, size: 21, color: '#363636', legendSize: 11 },
  { name: seriesNames[1], data: flatten(mki8dPoints), type: d3.symbolSquare, size: 23, color: '#b3b3b3', legendSize: 13 },
  { name: seriesNames[2], data: flatten(mki8cPoints), type: d3.symbolTriangle, size: 22, color: '#7f7f7f', legendSize: 12 }
]

// gridlines
svg.append('g')
  .selectAll('line')
  .data(yTicks.slice(1))
  .join('line')
  .attr('x1', plot.left).attr('x2', plot.right)
  .attr('y1', d => y(d)).attr('y2', d => y(d))
  .attr('stroke', gridColor)

svg.append('g')
  .selectAll('line')
  .data(xTicks.slice(1))
  .join('line')
  .attr('x1', d => x(d)).attr('x2', d => x(d))
  .attr('y1', plot.top).attr('y2', plot.bottom)
  .attr('stroke', gridColor)

// axes
const yAxis = svg.append('g')
  .attr('transform', 'translate(' + plot.left + ',0)')
  .call(d3.axisLeft(y).tickValues(yTicks).tickFormat(fmt).tickSize(5).tickPadding(6))

const xAxis = svg.append('g')
  .attr('transform', 'translate(0,' + plot.bottom + ')')
  .call(d3.axisBottom(x).tickValues(xTicks).tickSize(0).tickPadding(11))

for (const ax of [yAxis, xAxis]) {
  ax.select('.domain').attr('stroke', '#a6a6a6')
  ax.selectAll('.tick line').attr('stroke', '#a6a6a6')
  ax.selectAll('text')
    .attr('font-family', '"Liberation Serif", serif')
    .attr('font-size', 18)
    .attr('fill', '#000')
}

// points: later series on top
series.forEach(s => {
  const sym = d3.symbol().type(s.type).size(s.size)
  svg.append('g')
    .selectAll('path')
    .data(s.data)
    .join('path')
    .attr('d', sym)
    .attr('transform', d => 'translate(' + x(d.h) + ',' + y(d.v) + ')')
    .attr('fill', s.color)
})

// axis titles
svg.append('text')
  .text('Time from 26/09/2012 00:00:00 [hours]')
  .attr('x', (plot.left + plot.right) / 2)
  .attr('y', 498)
  .attr('text-anchor', 'middle')
  .attr('font-weight', 'bold')
  .attr('font-size', 22)

svg.append('text')
  .text('Normalized Pressure [mbar/p]')
  .attr('transform', 'translate(27,' + (plot.top + plot.bottom) / 2 + ') rotate(-90)')
  .attr('text-anchor', 'middle')
  .attr('font-weight', 'bold')
  .attr('font-size', 22)

// legend
const legend = svg.append('g')
const legendBox = legend.append('rect')
  .attr('x', 353).attr('y', 28)
  .attr('height', 90)
  .attr('fill', '#f2f2f2')

const rowY = [43, 73, 102]
let maxText = 0
series.forEach((s, i) => {
  legend.append('path')
    .attr('d', d3.symbol().type(s.type).size(s.legendSize))
    .attr('transform', 'translate(369,' + rowY[i] + ')')
    .attr('fill', s.color)
  const t = legend.append('text')
    .text(s.name)
    .attr('x', 378)
    .attr('y', rowY[i])
    .attr('dy', '0.35em')
    .attr('font-size', 20)
  maxText = Math.max(maxText, t.node().getComputedTextLength())
})
legendBox.attr('width', 378 + maxText + 8 - 353)
</script>
</body>
</html>
